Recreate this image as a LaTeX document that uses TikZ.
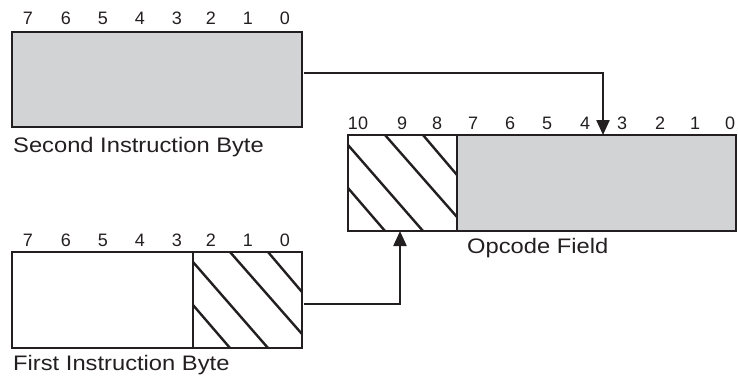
\documentclass[tikz,border=0pt]{standalone}
\usepackage{fontspec}
\setmainfont{Liberation Sans}
\usetikzlibrary{arrows.meta}
\definecolor{ink}{HTML}{231F20}
\definecolor{fieldgray}{HTML}{D1D3D4}
\newcommand{\widetext}[1]{\scalebox{1.13}[1]{#1}}
\begin{document}
\begin{tikzpicture}[x=1pt,y=-1pt,
  box/.style={draw=ink, line width=2.6pt, anchor=north west, inner sep=0pt, outer sep=0pt},
  hatchline/.style={draw=ink, line width=2.4pt},
  bitnum/.style={font=\fontsize{18}{18}\selectfont, text=ink, inner sep=0pt},
  caption/.style={font=\fontsize{21}{21}\selectfont, text=ink, inner sep=0pt, anchor=base west},
  conn/.style={draw=ink, line width=2.3pt, shorten <=1.5pt, -{Triangle[length=15pt,width=13pt]}}
]
\useasboundingbox (0,0) rectangle (738,375);

% boxes
\node[box, fill=fieldgray, minimum width=290pt, minimum height=95pt] (second) at (12,32) {};
\node[box, fill=white, minimum width=109pt, minimum height=96pt] (opcodehi) at (348,135) {};
\node[box, fill=fieldgray, minimum width=279pt, minimum height=96pt] (opcodelo) at (457,135) {};
\node[box, fill=white, minimum width=181pt, minimum height=96pt] (firsthi) at (12,252) {};
\node[box, fill=white, minimum width=109pt, minimum height=96pt] (firstlo) at (193,252) {};

% hatching
\foreach \b in {opcodehi, firstlo} {
  \draw[hatchline] ([shift={(0,10)}]\b.north west) -- ([shift={(75,96)}]\b.north west);
  \draw[hatchline] ([shift={(37,0)}]\b.north west) -- ([shift={(109,82)}]\b.north west);
  \draw[hatchline] ([shift={(75,0)}]\b.north west) -- ([shift={(109,40)}]\b.north west);
  \draw[hatchline] ([shift={(0,53)}]\b.north west) -- ([shift={(37,96)}]\b.north west);
}
% redraw borders over hatch ends
\foreach \b in {opcodehi, firstlo} {
  \draw[ink, line width=2.6pt] (\b.north west) rectangle (\b.south east);
}

% bit numbers
\foreach \n/\x in {7/28, 6/66, 5/103, 4/140, 3/177, 2/211, 1/248, 0/285} {
  \node[bitnum] (s\n) at (\x,18.5) {\n};
  \node[bitnum] (f\n) at (\x,240) {\n};
}
\foreach \n/\x in {10/358, 9/402, 8/437, 7/473, 6/510, 5/547, 4/585, 3/622, 2/660, 1/695, 0/730} {
  \node[bitnum] (o\n) at (\x,123.5) {\n};
}

% captions
\node[caption] (secondlbl) at (13,152) {\widetext{Second Instruction Byte}};
\node[caption] (firstlbl) at (13,370) {\widetext{First Instruction Byte}};
\node[caption] (opcodelbl) at (467,253) {\widetext{Opcode Field}};

% connectors
\coordinate (bend1) at (603,73);
\coordinate (bend2) at (400,304);
\draw[conn] (second.east |- bend1) -- (bend1) -- (opcodelo.north -| bend1);
\draw[conn] (firstlo.east |- bend2) -- (bend2) -- (opcodehi.south -| bend2);
\end{tikzpicture}
\end{document}
